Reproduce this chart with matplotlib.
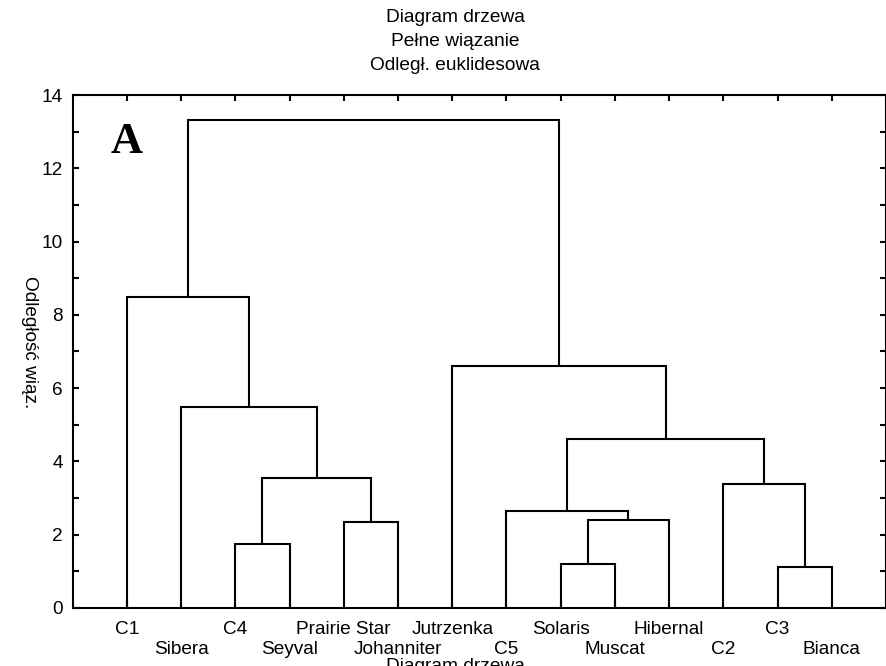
import matplotlib
matplotlib.use("Agg")
import matplotlib.pyplot as plt

plt.rcParams['font.family'] = ['Liberation Sans', 'DejaVu Sans']

# leaf order along the x axis
leaves = ["C1", "Sibera", "C4", "Seyval", "Prairie Star", "Johanniter", "Jutrzenka",
          "C5", "Solaris", "Muscat", "Hibernal", "C2", "C3", "Bianca"]

# merges: (left child, right child, linkage distance); ints refer to earlier merges
merges = [
    ("C4", "Seyval", 1.74),
    ("Prairie Star", "Johanniter", 2.34),
    (0, 1, 3.55),
    ("Sibera", 2, 5.47),
    ("C1", 3, 8.48),
    ("Solaris", "Muscat", 1.19),
    (5, "Hibernal", 2.39),
    ("C5", 6, 2.63),
    ("C3", "Bianca", 1.10),
    ("C2", 8, 3.38),
    (7, 9, 4.61),
    ("Jutrzenka", 10, 6.60),
    (4, 11, 13.32),
]

LW = 1.5

fig = plt.figure(figsize=(8.87, 6.66), dpi=100)
ax = fig.add_axes([0.082, 0.0875, 0.9168, 0.7695])

pos = {name: i + 1 for i, name in enumerate(leaves)}
nodes = []
for a, b, h in merges:
    xa, ha = (pos[a], 0.0) if isinstance(a, str) else nodes[a]
    xb, hb = (pos[b], 0.0) if isinstance(b, str) else nodes[b]
    ax.plot([xa, xa, xb, xb], [ha, h, h, hb], color='black', lw=LW,
            solid_joinstyle='miter', solid_capstyle='butt')
    nodes.append(((xa + xb) / 2, h))

ax.set_xlim(0, len(leaves) + 1)
ax.set_ylim(0, 14)

# alternate labels on two rows
ticks = list(range(1, len(leaves) + 1))
ax.set_xticks(ticks[0::2], leaves[0::2])
ax.set_xticks(ticks[1::2], leaves[1::2], minor=True)
ax.tick_params(axis='x', which='major', pad=9.5, labelsize=13.7)
ax.tick_params(axis='x', which='minor', pad=24, labelsize=13.7)
ax.tick_params(axis='x', which='both', direction='in', top=True, length=4, width=LW)

ax.set_yticks(range(0, 15, 2))
ax.set_yticks(range(1, 15, 2), minor=True)
ax.tick_params(axis='y', which='both', direction='in', right=True, length=4,
               width=LW, labelsize=13.7, pad=7)

for s in ax.spines.values():
    s.set_linewidth(LW)

ax.text(0.046, 0.887, "A", transform=ax.transAxes, family='Liberation Serif',
        fontweight='bold', fontsize=32, ha='left', va='baseline')

fig.text(29 / 887, 1 - 342 / 666, "Odległość wiąz.", rotation=270,
         ha='center', va='center', fontsize=13.7)

for i, line in enumerate(["Diagram drzewa", "Pełne wiązanie", "Odległ. euklidesowa"]):
    fig.text(455 / 887, 1 - (18 + 24 * i) / 666, line, ha='center', va='center',
             fontsize=13.8)

# heading of the next panel, cut off at the bottom edge
fig.text(455 / 887, 1 - 658 / 666, "Diagram drzewa", ha='center', va='top',
         fontsize=13.8)

fig.savefig("out.png", dpi=100)
